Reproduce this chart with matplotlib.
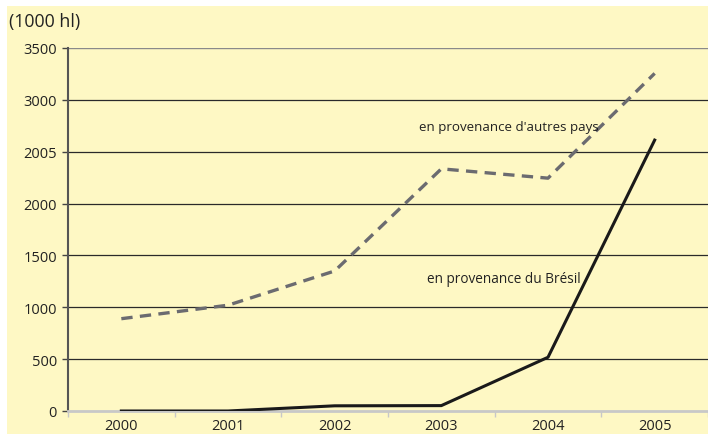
import matplotlib.pyplot as plt
from matplotlib.patches import Rectangle

years = ['2000', '2001', '2002', '2003', '2004', '2005']
autres_pays = [890, 1020, 1350, 2335, 2245, 3255]
bresil = [0, 0, 50, 52, 518, 2612]
y_ticks = [0, 500, 1000, 1500, 2000, 2500, 3000, 3500]
# the source chart labels 2500 as "2005", kept as is
y_tick_labels = ['0', '500', '1000', '1500', '2000', '2005', '3000', '3500']

BG = '#FEF8C4'
plt.rcParams['font.family'] = ['Open Sans', 'DejaVu Sans']

fig = plt.figure(figsize=(7.08, 4.35), dpi=100)
fig.patch.set_facecolor('white')
fig.add_artist(Rectangle((7 / 708, 0), 1, 1 - 7 / 435, transform=fig.transFigure,
                         facecolor=BG, edgecolor='none', zorder=-10))

ax = fig.add_axes([68 / 708, 1 - 412 / 435, 640 / 708, 363 / 435])
ax.set_facecolor(BG)

x = list(range(len(years)))
ax.plot(x, autres_pays, color='#6B6B70', lw=2.4, dashes=(3.4, 2.2), solid_capstyle='butt', zorder=3)
ax.plot(x, bresil, color='#1A1A1A', lw=2.2, zorder=3)

ax.set_xlim(-0.5, 5.5)
ax.set_ylim(0, 3500)

ax.set_yticks(y_ticks)
ax.set_yticklabels(y_tick_labels)
for yv in y_ticks[1:-1]:
    ax.axhline(yv, color='#2a2a2a', lw=0.9, zorder=1)
ax.axhline(3500, color='#8a8a8a', lw=1.0, zorder=1)

ax.set_xticks(x)
ax.set_xticklabels(years)
ax.set_xticks([i - 0.5 for i in range(len(years) + 1)], minor=True)
ax.tick_params(axis='x', which='major', length=0, pad=5, labelsize=10.5, colors='#222222')
ax.tick_params(axis='x', which='minor', length=4, color='#c8c8c8', width=1)
ax.tick_params(axis='y', length=4, width=1, color='#444444', labelsize=10.5, colors='#222222', pad=4)

for side in ['top', 'right']:
    ax.spines[side].set_visible(False)
ax.spines['left'].set_color('#555555')
ax.spines['left'].set_linewidth(1.5)
ax.spines['bottom'].set_color('#c8c8c8')
ax.spines['bottom'].set_linewidth(2)

ax.text(2.79, 2740, "en provenance d'autres pays", fontsize=9.6, color='#222222', va='center')
ax.text(2.87, 1280, 'en provenance du Brésil', fontsize=9.8, color='#222222', va='center')

fig.text(9 / 708, 1 - 22 / 435, '(1000 hl)', fontsize=12.8, color='#222222', va='center')

fig.savefig('out.png', dpi=100, facecolor=fig.get_facecolor())
